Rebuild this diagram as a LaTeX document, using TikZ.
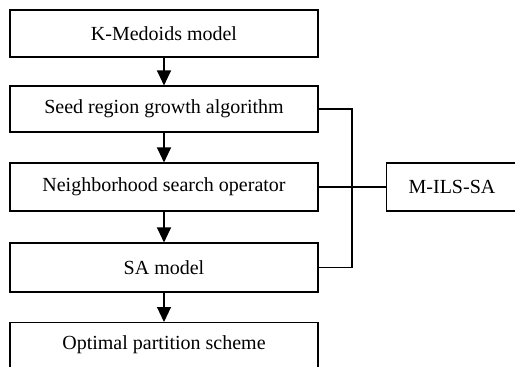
\documentclass[tikz,border=0pt]{standalone}
\usepackage{fontspec}
\setmainfont{Liberation Serif}
\usetikzlibrary{arrows.meta}
\begin{document}
\begin{tikzpicture}[x=1pt,y=-1pt,
  box/.style={draw,line width=1.1pt,minimum width=308pt,inner sep=0pt,font=\fontsize{20}{22}\selectfont},
  arr/.style={line width=1.1pt,-{Triangle[length=15pt,width=14pt]}},
  ln/.style={line width=1.1pt}]
\useasboundingbox (0,0) rectangle (515,367);
\begin{scope}
\clip (0,0) rectangle (515,367);
\node[box,minimum height=47pt] (a) at (164,33.5) {K-Medoids model};
\node[box,minimum height=46pt] (b) at (164,109) {Seed region growth algorithm};
\node[box,minimum height=48pt] (c) at (164,187) {Neighborhood search operator};
\node[box,minimum height=49pt] (d) at (164,267.5) {SA model};
\node[box,minimum height=50pt,anchor=north] (e) at (164,322) {};
\node[font=\fontsize{20}{22}\selectfont] (et) at (164,345) {Optimal partition scheme};
\node[box,minimum width=134pt,minimum height=48pt,anchor=west] (m) at (386,187) {};
\node[font=\fontsize{20}{22}\selectfont] (mt) at (452,187) {M-ILS-SA};
\draw[arr] (a) -- (b);
\draw[arr] (b) -- (c);
\draw[arr] (c) -- (d);
\draw[arr] (d) -- (e);
\coordinate (j) at (352,187);
\draw[ln] (b.east) -| (j);
\draw[ln] (d.east) -| (j);
\draw[ln] (c.east) -- (m.west);
\end{scope}
\end{tikzpicture}
\end{document}
